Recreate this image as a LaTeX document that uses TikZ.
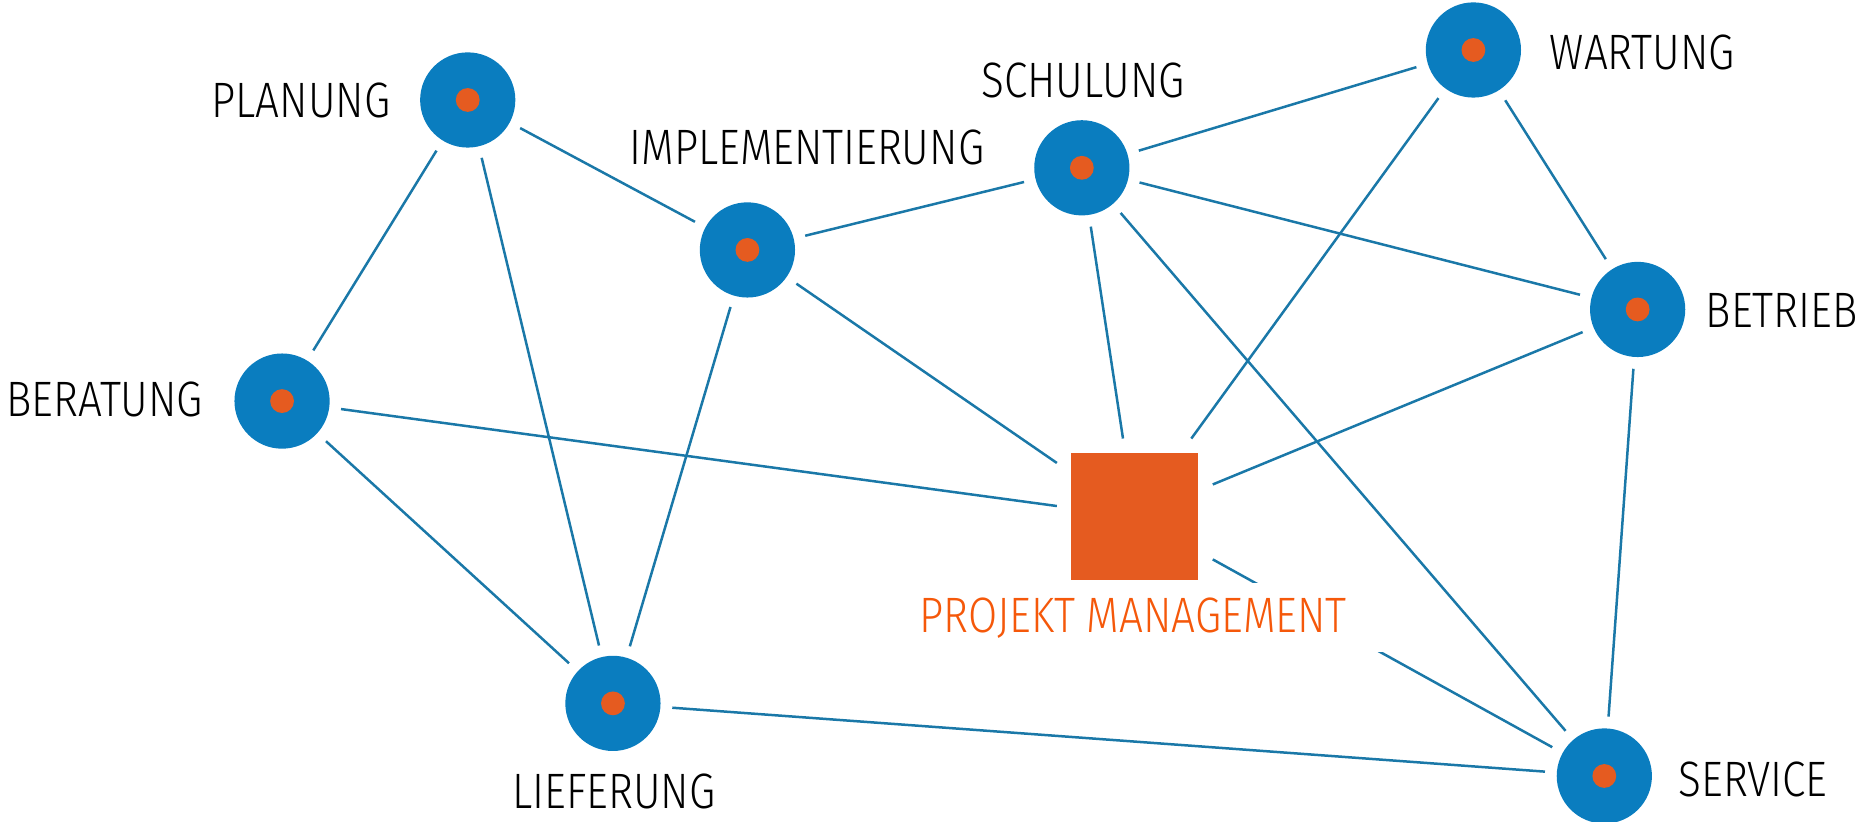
\documentclass[tikz,border=0pt]{standalone}
\usepackage{fontspec}
\setmainfont{Fira Sans}[UprightFont={* Light},FakeStretch=0.85]
\definecolor{cblue}{HTML}{0A7DBF}
\definecolor{lblue}{HTML}{1A78A8}
\definecolor{corange}{HTML}{E55B20}
\definecolor{torange}{HTML}{F5580A}
\tikzset{
  hub/.style={circle,fill=cblue,minimum size=80pt,inner sep=0pt,outer sep=10pt,
    path picture={\fill[corange] (path picture bounding box.center) circle (10pt);}},
  pmbox/.style={rectangle,fill=corange,minimum size=107pt,inner sep=0pt,outer sep=12pt},
  lbl/.style={font=\fontsize{41.8pt}{44pt}\selectfont,text=black,inner sep=0pt},
  link/.style={draw=lblue,line width=2.1pt}
}
\begin{document}
\begin{tikzpicture}[x=1pt,y=-1pt]
\useasboundingbox (0,0) rectangle (1562,690);
% hubs
\node[hub] (pla) at (393,84) {};
\node[hub] (imp) at (628,210) {};
\node[hub] (sch) at (909,141) {};
\node[hub] (war) at (1238,42) {};
\node[hub] (bet) at (1376,260) {};
\node[hub] (ber) at (237,337) {};
\node[hub] (lie) at (515,591) {};
\node[hub] (ser) at (1348,652) {};
\node[pmbox] (pm) at (953.5,434) {};
% links
\draw[link] (pla) -- (imp);
\draw[link] (pla) -- (ber);
\draw[link] (pla) -- (lie);
\draw[link] (imp) -- (sch);
\draw[link] (imp) -- (pm);
\draw[link] (imp) -- (lie);
\draw[link] (sch) -- (war);
\draw[link] (sch) -- (bet);
\draw[link] (sch) -- (pm);
\draw[link] (sch) -- (ser);
\draw[link] (war) -- (bet);
\draw[link] (war) -- (pm);
\draw[link] (bet) -- (pm);
\draw[link] (bet) -- (ser);
\draw[link] (ber) -- (pm);
\draw[link] (ber) -- (lie);
\draw[link] (lie) -- (ser);
\draw[link] (pm) -- (ser);
% labels
\node[lbl] (tpla) at (253,84) {PLANUNG};
\node[lbl] (timp) at (678,124) {IMPLEMENTIERUNG};
\node[lbl] (tsch) at (910,68) {SCHULUNG};
\node[lbl] (twar) at (1380,44) {WARTUNG};
\node[lbl] (tbet) at (1497,261) {BETRIEB};
\node[lbl] (tber) at (88,336) {BERATUNG};
\node[lbl] (tlie) at (516,665) {LIEFERUNG};
\node[lbl] (tser) at (1473,655) {SERVICE};
\node[lbl,text=torange,fill=white,minimum width=440pt,minimum height=58pt] (tpm) at (952,519) {PROJEKT MANAGEMENT};
\end{tikzpicture}
\end{document}
